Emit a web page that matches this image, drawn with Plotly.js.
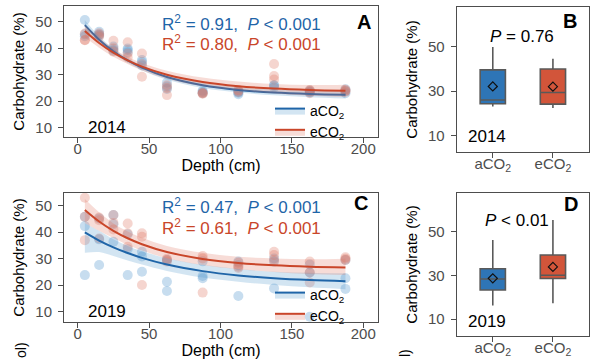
<!DOCTYPE html>
<html>
<head>
<meta charset="utf-8">
<script src="https://cdn.plot.ly/plotly-3.0.1.min.js"></script>
<style>html,body{margin:0;padding:0;background:#fff;}#chart{width:600px;height:360px;}</style>
</head>
<body>
<div id="chart"></div>
<script>
// ---------- data ----------
const depths = [5, 15, 25, 35, 45, 62.5, 87.5, 112.5, 137.5, 162.5, 187.5];

// 2014 points (3 replicates per depth)
const a2014 = [[50.6,45.2,44.5],[46.2,45.2,44.8],[40.6,39.6,39.0],[39.9,39.3,38.5],[35.5,34.8,33.5],[27.0,24.6,25.5],[24.0,23.0,23.5],[23.6,22.6,23.2],[26.1,25.2,25.8],[23.6,24.0,23.3],[24.5,23.0,23.8]];
const e2014 = [[43.1,43.0,45.5],[45.6,44.3,45.0],[42.8,38.7,40.0],[42.2,38.0,36.5],[38.0,29.2,34.0],[22.3,26.0,25.0],[23.2,23.0,22.8],[24.0,23.5,24.2],[34.0,29.5,28.2],[24.2,23.0,23.8],[24.0,23.6,24.3]];
// 2019 points
const a2019 = [[45.8,42.3,23.8],[45.2,37.3,27.6],[46.5,43.0,36.4],[39.2,33.6,23.8],[32.6,30.8,25.1],[29.5,21.3,17.8],[23.5,22.6,29.0],[28.9,27.5,15.9],[30.1,28.9,18.8],[27.8,24.8,8.1],[22.6,18.6,29.5]];
const e2019 = [[53.0,45.8,37.0],[45.5,37.6,44.5],[46.5,43.5,41.0],[43.3,39.6,34.5],[39.6,38.3,20.1],[29.5,28.9,30.0],[31.0,30.1,17.2],[28.5,27.0,26.5],[32.6,31.4,29.5],[28.9,24.8,21.0],[30.5,29.5,30.0]];

// exponential fits y = a + b*exp(-k*(depth-5))
const fitA2014 = [22.0, 26.7, 0.023];
const fitE2014 = [23.5, 23.0, 0.022];
const fitA2019 = [20.7, 19.2, 0.0173];
const fitE2019 = [26.3, 22.1, 0.022];

// confidence bands (lower / upper) at each depth
const bandA2014Lo = [46.9,41.9,37.8,34.5,31.7,28.1,25.0,23.3,22.2,21.5,21.0];
const bandA2014Hi = [50.5,44.5,39.8,36.3,33.5,30.1,27.0,25.3,24.4,23.9,23.8];
const bandE2014Lo = [44.1,40.2,36.8,34.0,31.6,28.5,25.6,24.0,22.9,22.1,21.6];
const bandE2014Hi = [48.9,43.8,39.8,36.8,34.4,31.5,28.9,27.4,26.5,26.1,26.2];
const bandA2019Lo = [32.2,32.5,31.0,29.3,27.8,25.4,22.9,21.3,20.1,19.2,18.5];
const bandA2019Hi = [43.4,40.5,37.3,34.8,32.8,30.2,27.7,26.1,25.1,24.7,24.5];
const bandE2019Lo = [43.5,40.5,37.8,35.2,33.1,30.2,27.6,26.0,25.0,24.2,23.8];
const bandE2019Hi = [52.5,47.5,43.3,40.3,37.9,34.8,32.2,30.7,30.1,29.8,30.0];

// box-plot statistics [lowerfence, q1, median, q3, upperfence, mean]
const boxCats = ['aCO<sub>2</sub>', 'eCO<sub>2</sub>'];
const box2014A = [23.0, 24.3, 26.0, 39.6, 50.0, 32.1];
const box2014E = [22.3, 24.1, 29.4, 40.0, 44.6, 32.0];
const box2019A = [16.2, 23.3, 28.3, 33.0, 46.0, 28.6];
const box2019E = [17.3, 28.5, 30.0, 39.2, 55.1, 33.8];

// ---------- styles ----------
const BLUE = '#1f65a8', RED = '#c9462a';
const BLUE_PT = 'rgba(80,150,205,0.32)', RED_PT = 'rgba(222,115,95,0.3)';
const BLUE_BAND = 'rgba(80,150,205,0.25)', RED_BAND = 'rgba(222,115,95,0.25)';
const BOX_BLUE = '#2e75b6', BOX_RED = '#d2553a';
const FONT = 'Liberation Sans, Arial, sans-serif';

function flatX(arr){ const o=[]; arr.forEach((r,i)=>r.forEach(()=>o.push(depths[i]))); return o; }
function flatY(arr){ const o=[]; arr.forEach(r=>r.forEach(v=>o.push(v))); return o; }
function fitY(p){ return depths.map(d => p[0] + p[1]*Math.exp(-p[2]*(d-5))); }

const traces = [];
function addScatterPanel(xa, ya, aPts, ePts, aFit, eFit, aLo, aHi, eLo, eHi, legendId){
  [[aPts, BLUE_PT], [ePts, RED_PT]].forEach(s => {
    traces.push({x: flatX(s[0]), y: flatY(s[0]), xaxis: xa, yaxis: ya, type: 'scatter', mode: 'markers',
      marker: {size: 10, color: s[1]}, showlegend: false, hoverinfo: 'skip'});
  });
  [[aFit, aLo, aHi, BLUE, BLUE_BAND, 'aCO<sub>2</sub>'],
   [eFit, eLo, eHi, RED, RED_BAND, 'eCO<sub>2</sub>']].forEach(s => {
    traces.push({x: depths, y: s[1], xaxis: xa, yaxis: ya, type: 'scatter', mode: 'lines',
      line: {width: 0, shape: 'spline'}, showlegend: false, hoverinfo: 'skip'});
    traces.push({x: depths, y: fitY(s[0]), xaxis: xa, yaxis: ya, type: 'scatter', mode: 'lines',
      line: {width: 2, color: s[3], shape: 'spline'}, fill: 'tonexty', fillcolor: s[4],
      name: s[5], legend: legendId});
    traces.push({x: depths, y: s[2], xaxis: xa, yaxis: ya, type: 'scatter', mode: 'lines',
      line: {width: 0, shape: 'spline'}, fill: 'tonexty', fillcolor: s[4], showlegend: false, hoverinfo: 'skip'});
  });
}
addScatterPanel('x', 'y', a2014, e2014, fitA2014, fitE2014, bandA2014Lo, bandA2014Hi, bandE2014Lo, bandE2014Hi, 'legend');
addScatterPanel('x3', 'y3', a2019, e2019, fitA2019, fitE2019, bandA2019Lo, bandA2019Hi, bandE2019Lo, bandE2019Hi, 'legend2');

function addBox(xa, ya, idx, st, fill){
  traces.push({type: 'box', xaxis: xa, yaxis: ya, x: [idx], lowerfence: [st[0]], q1: [st[1]], median: [st[2]],
    q3: [st[3]], upperfence: [st[4]], width: 0.42, whiskerwidth: 0, fillcolor: fill,
    line: {color: '#595959', width: 1.6}, boxpoints: false, showlegend: false, hoverinfo: 'skip'});
}
addBox('x2', 'y2', 0, box2014A, BOX_BLUE);
addBox('x2', 'y2', 1, box2014E, BOX_RED);
addBox('x4', 'y4', 0, box2019A, BOX_BLUE);
addBox('x4', 'y4', 1, box2019E, BOX_RED);
traces.push({type: 'scatter', mode: 'markers', xaxis: 'x2', yaxis: 'y2', x: [0, 1], y: [box2014A[5], box2014E[5]],
  marker: {symbol: 'diamond-open', size: 7, color: '#111', line: {width: 1.2}}, showlegend: false});
traces.push({type: 'scatter', mode: 'markers', xaxis: 'x4', yaxis: 'y4', x: [0, 1], y: [box2019A[5], box2019E[5]],
  marker: {symbol: 'diamond-open', size: 7, color: '#111', line: {width: 1.2}}, showlegend: false});

// ---------- layout ----------
const W = 600, H = 360;
const px = v => v / W, py = v => 1 - v / H;
const axCommon = {showline: true, mirror: true, linecolor: '#4d4d4d', linewidth: 1, ticks: 'outside', ticklen: 5,
  tickcolor: '#4d4d4d', showgrid: false, zeroline: false, tickfont: {family: FONT, size: 15, color: '#4d4d4d'}};
const xttl = t => ({text: t, standoff: 2, font: {family: FONT, size: 16, color: '#000'}});
const yttl = t => ({text: t, font: {family: FONT, size: 15, color: '#000'}});

const layout = {
  width: W, height: H, margin: {l: 0, r: 0, t: 0, b: 0}, paper_bgcolor: '#fff', plot_bgcolor: '#fff',
  font: {family: FONT},
  xaxis: Object.assign({}, axCommon, {domain: [px(64), px(378)], range: [-9.6, 210.3], tickvals: [0,50,100,150,200], anchor: 'y', ticklabelstandoff: -7, title: xttl('Depth (cm)')}),
  yaxis: Object.assign({}, axCommon, {domain: [py(137), py(6)], range: [6.5, 55.9], tickvals: [10,20,30,40,50], anchor: 'x', ticklabelstandoff: 3, title: yttl('Carbohydrate (%)')}),
  xaxis2: Object.assign({}, axCommon, {domain: [px(456.7), px(589)], range: [-0.6, 1.6], tickvals: [0,1], ticktext: boxCats, anchor: 'y2', ticklabelstandoff: -7}),
  yaxis2: Object.assign({}, axCommon, {domain: [py(152.3), py(6.7)], range: [2.3, 68.2], tickvals: [10,30,50], anchor: 'x2', ticklabelstandoff: 3, title: yttl('Carbohydrate (%)')}),
  xaxis3: Object.assign({}, axCommon, {domain: [px(64), px(378)], range: [-9.6, 210.3], tickvals: [0,50,100,150,200], anchor: 'y3', ticklabelstandoff: -7, title: xttl('Depth (cm)')}),
  yaxis3: Object.assign({}, axCommon, {domain: [py(322.3), py(192.7)], range: [6.0, 54.9], tickvals: [10,20,30,40,50], anchor: 'x3', ticklabelstandoff: 3, title: yttl('Carbohydrate (%)')}),
  xaxis4: Object.assign({}, axCommon, {domain: [px(456.7), px(589)], range: [-0.6, 1.6], tickvals: [0,1], ticktext: boxCats, anchor: 'y4', ticklabelstandoff: -7}),
  yaxis4: Object.assign({}, axCommon, {domain: [py(335.7), py(193.3)], range: [2.5, 67.3], tickvals: [10,30,50], anchor: 'x4', ticklabelstandoff: 3, title: yttl('Carbohydrate (%)')}),
  legend: {x: px(270), y: py(95), xanchor: 'left', yanchor: 'top', traceorder: 'normal', bgcolor: 'rgba(0,0,0,0)', font: {family: FONT, size: 14, color: '#000'}, tracegroupgap: 0},
  legend2: {x: px(270), y: py(279), xanchor: 'left', yanchor: 'top', traceorder: 'normal', bgcolor: 'rgba(0,0,0,0)', font: {family: FONT, size: 14, color: '#000'}, tracegroupgap: 0},
  annotations: []
};
function ann(text, x, y, size, color, extra){
  layout.annotations.push(Object.assign({text: text, x: px(x), y: py(y), xref: 'paper', yref: 'paper', showarrow: false,
    xanchor: 'center', yanchor: 'middle', font: {family: FONT, size: size, color: color}}, extra || {}));
}
ann('R<sup>2</sup> = 0.91,  <i>P</i> &lt; 0.001', 241, 22.7, 17, BLUE);
ann('R<sup>2</sup> = 0.80,  <i>P</i> &lt; 0.001', 241, 43.3, 17, RED);
ann('R<sup>2</sup> = 0.47,  <i>P</i> &lt; 0.001', 241, 205.7, 17, BLUE);
ann('R<sup>2</sup> = 0.61,  <i>P</i> &lt; 0.001', 241, 227.3, 17, RED);
ann('<b>A</b>', 364, 21.5, 20, '#000');
ann('<b>C</b>', 361, 203.3, 20, '#000');
ann('<b>B</b>', 570, 20.7, 20, '#000');
ann('<b>D</b>', 570.5, 204.3, 20, '#000');
ann('2014', 106.5, 127.7, 17, '#000');
ann('2019', 107, 311.7, 17, '#000');
ann('2014', 486.7, 136.7, 17, '#000');
ann('2019', 486.7, 321.7, 17, '#000');
ann('<i>P</i> = 0.76', 521.7, 36.7, 17, '#000');
ann('<i>P</i> &lt; 0.01', 516.7, 220, 17, '#000');
ann('ol)', 21, 350, 14, '#000', {textangle: -90});
ann('l)', 405, 353, 14, '#000', {textangle: -90});

Plotly.newPlot('chart', traces, layout, {displayModeBar: false, staticPlot: true});
</script>
</body>
</html>
